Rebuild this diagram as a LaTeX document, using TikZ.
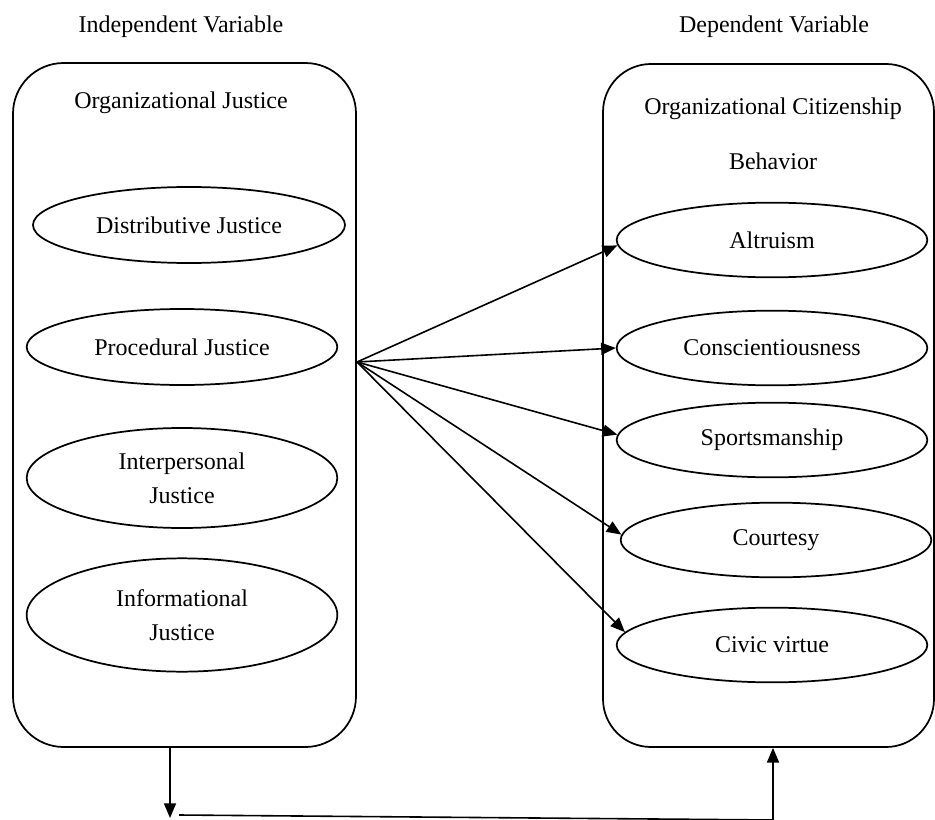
\documentclass[tikz,border=0pt]{standalone}
\usepackage{fontspec}
\setmainfont{Liberation Serif}
\usetikzlibrary{shapes.geometric,arrows.meta}
\tikzset{
  lbl/.style={font=\fontsize{18}{25.5}\selectfont, align=center, inner sep=0pt},
  bigbox/.style={draw, line width=1.3pt, rectangle, rounded corners=38pt, inner sep=0pt},
  oval/.style={draw, ellipse, line width=1.3pt, inner sep=0pt, font=\fontsize{18}{25.5}\selectfont, align=center},
  arr/.style={line width=1.2pt, -{Triangle[length=11pt,width=9pt]}},
  plain/.style={line width=1.2pt}
}
\begin{document}
\begin{tikzpicture}[x=0.75pt,y=-0.75pt]
\useasboundingbox (0,0) rectangle (935,820);
% titles
\node[lbl] (tiv) at (181,27) {Independent Variable};
\node[lbl] (tdv) at (774,27) {Dependent Variable};
% boxes
\node[bigbox, minimum width=257.25pt, minimum height=513pt] (lbox) at (184.5,405) {};
\node[bigbox, rounded corners=36pt, minimum width=248.25pt, minimum height=512.25pt] (rbox) at (768.5,405.5) {};
% group labels
\node[lbl] (oj) at (181,103) {Organizational Justice};
\node[lbl, font=\fontsize{18}{41.25}\selectfont] (ocb) at (773,134) {Organizational Citizenship\\Behavior};
% left ellipses
\node[oval, minimum width=234pt, minimum height=57pt] (dj) at (189,225) {Distributive Justice};
\node[oval, minimum width=233pt, minimum height=57pt] (pj) at (182,347) {Procedural Justice};
\node[oval, minimum width=233pt, minimum height=75pt] (ipj) at (182,478) {Interpersonal\\Justice};
\node[oval, minimum width=233pt, minimum height=85pt] (ifj) at (182,615) {Informational\\Justice};
% right ellipses
\node[oval, minimum width=233pt, minimum height=56pt] (alt) at (772,240) {Altruism};
\node[oval, minimum width=233pt, minimum height=56pt] (con) at (772,348) {Conscientiousness};
\node[oval, minimum width=233pt, minimum height=56pt] (spo) at (772,440) {Sportsmanship};
\node[oval, minimum width=233pt, minimum height=56pt] (cou) at (776,540) {Courtesy};
\node[oval, minimum width=233pt, minimum height=56pt] (civ) at (772,645) {Civic virtue};
% arrows from the independent box
\coordinate (src) at (357,362);
\draw[arr] (src) -- (alt.182);
\draw[arr] (src) -- (con.180);
\draw[arr] (src) -- (spo.178);
\draw[arr] (src) -- (cou.178);
\draw[arr] (src) -- (civ.175);
% bottom loop
\coordinate (d1) at (170,818);
\coordinate (h1) at (179,815);
\coordinate (h2) at (773,820);
\draw[arr] (lbox.south -| d1) -- (d1);
\draw[plain] (h1) -- (h2);
\draw[arr] (h2) -- (rbox.south -| h2);
\end{tikzpicture}
\end{document}
